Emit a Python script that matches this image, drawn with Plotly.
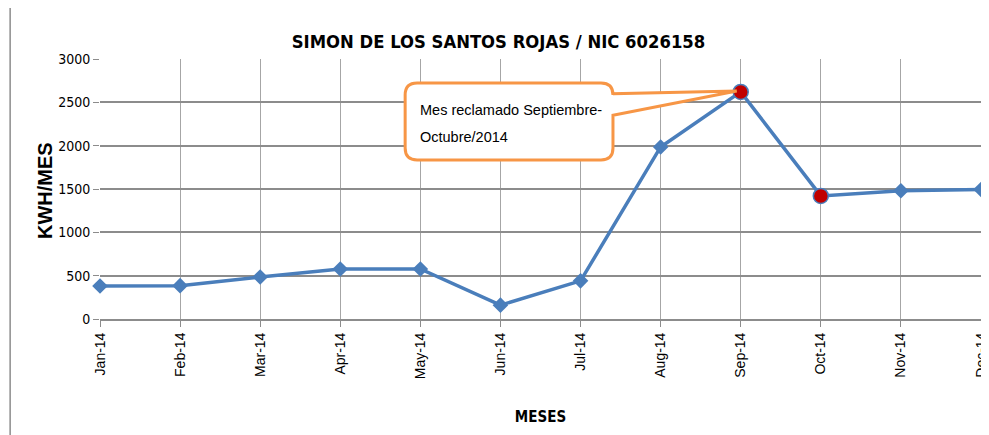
import plotly.graph_objects as go

months = ["Jan-14", "Feb-14", "Mar-14", "Apr-14", "May-14", "Jun-14",
          "Jul-14", "Aug-14", "Sep-14", "Oct-14", "Nov-14", "Dec-14"]
kwh = [380, 385, 485, 577, 577, 160, 440, 1985, 2620, 1420, 1480, 1495]
claimed = ["Sep-14", "Oct-14"]
claimed_kwh = [2620, 1420]
y_ticks = [0, 500, 1000, 1500, 2000, 2500, 3000]

title = "SIMON DE LOS SANTOS ROJAS / NIC 6026158"
note_lines = ["Mes reclamado Septiembre-", "Octubre/2014"]

COND = "DejaVu Sans Condensed, Liberation Sans, sans-serif"
SANS = "Liberation Sans, Arial, sans-serif"
BLUE = "#4A7EBB"
ORANGE = "#F79646"

fig = go.Figure()
fig.add_trace(go.Scatter(
    x=months, y=kwh, mode="lines+markers",
    line=dict(color=BLUE, width=3.5),
    marker=dict(symbol="diamond", size=12, color=BLUE),
    cliponaxis=False, showlegend=False, hoverinfo="x+y"))
fig.add_trace(go.Scatter(
    x=claimed, y=claimed_kwh, mode="markers",
    marker=dict(symbol="circle", size=15, color="#C00000",
                line=dict(color=BLUE, width=1.5)),
    cliponaxis=False, showlegend=False, hoverinfo="x+y"))

# callout box (rounded rectangle with wedge pointing to Sep-14)
x0, x1 = 3.81, 6.405
y0, y1 = 1835, 2723
rx, ry = 0.15, 138
wy0, wy1 = 2350, 2600  # wedge base on right edge
tipx, tipy = 8, 2620
path = (f"M {x0+rx},{y1} L {x1-rx},{y1} Q {x1},{y1} {x1},{y1-ry} "
        f"L {x1},{wy1} L {tipx - 0.05},{tipy + 10} L {x1},{wy0} "
        f"L {x1},{y0+ry} Q {x1},{y0} {x1-rx},{y0} "
        f"L {x0+rx},{y0} Q {x0},{y0} {x0},{y0+ry} "
        f"L {x0},{y1-ry} Q {x0},{y1} {x0+rx},{y1} Z")
fig.add_shape(type="path", path=path, xref="x", yref="y",
              line=dict(color=ORANGE, width=3), fillcolor="white", layer="above")

for i, line in enumerate(note_lines):
    fig.add_annotation(x=x0 + 0.155, y=2415 - i * 312, xref="x", yref="y",
                       text=line, showarrow=False, xanchor="left", yanchor="middle",
                       align="left", font=dict(family=SANS, size=14.5, color="black"))

# y-axis title placed as a rotated annotation
fig.add_annotation(x=-55 / 881, y=128 / 260, xref="paper", yref="paper",
                   text="<b>KWH/MES</b>", textangle=-90, showarrow=False,
                   xanchor="center", yanchor="middle",
                   font=dict(family=SANS, size=20, color="black"))

# outer chart border (left and top edges)
fig.add_shape(type="line", xref="paper", yref="paper", x0=-0.102, x1=-0.102,
              y0=-0.6, y1=1.208, line=dict(color="#8c8c8c", width=1.5))
fig.add_shape(type="line", xref="paper", yref="paper", x0=-0.102, x1=1.2,
              y0=1.208, y1=1.208, line=dict(color="#8c8c8c", width=1.5))

# page has an 8px body margin, so the figure is shrunk and margins shifted
fig.update_layout(
    width=981, height=427,
    margin=dict(l=92, r=8, t=51, b=116, autoexpand=False),
    paper_bgcolor="white", plot_bgcolor="white",
    title=dict(text=f"<b>{title}</b>", x=0.5, xanchor="center",
               y=1 - 34 / 427, yanchor="middle",
               font=dict(family=COND, size=18.3, color="black")),
    xaxis=dict(type="category", categoryorder="array", categoryarray=months,
               range=[0, 11], showgrid=True, gridcolor="#a6a6a6", gridwidth=1.2,
               showline=True, linecolor="#8c8c8c", linewidth=2,
               ticks="outside", ticklen=6, tickcolor="#8c8c8c", tickangle=-90,
               tickfont=dict(family=SANS, size=14, color="black"),
               automargin=False,
               title=dict(text="<b>MESES</b>", standoff=33,
                          font=dict(family=COND, size=15, color="black"))),
    yaxis=dict(range=[0, 3000], tickvals=y_ticks, showgrid=True, gridcolor="#8c8c8c",
               gridwidth=1.5, showline=False, zeroline=False,
               ticks="outside", ticklen=6, tickcolor="#8c8c8c",
               tickfont=dict(family=COND, size=14, color="black"),
               automargin=False),
)

fig.write_html("out.html")
